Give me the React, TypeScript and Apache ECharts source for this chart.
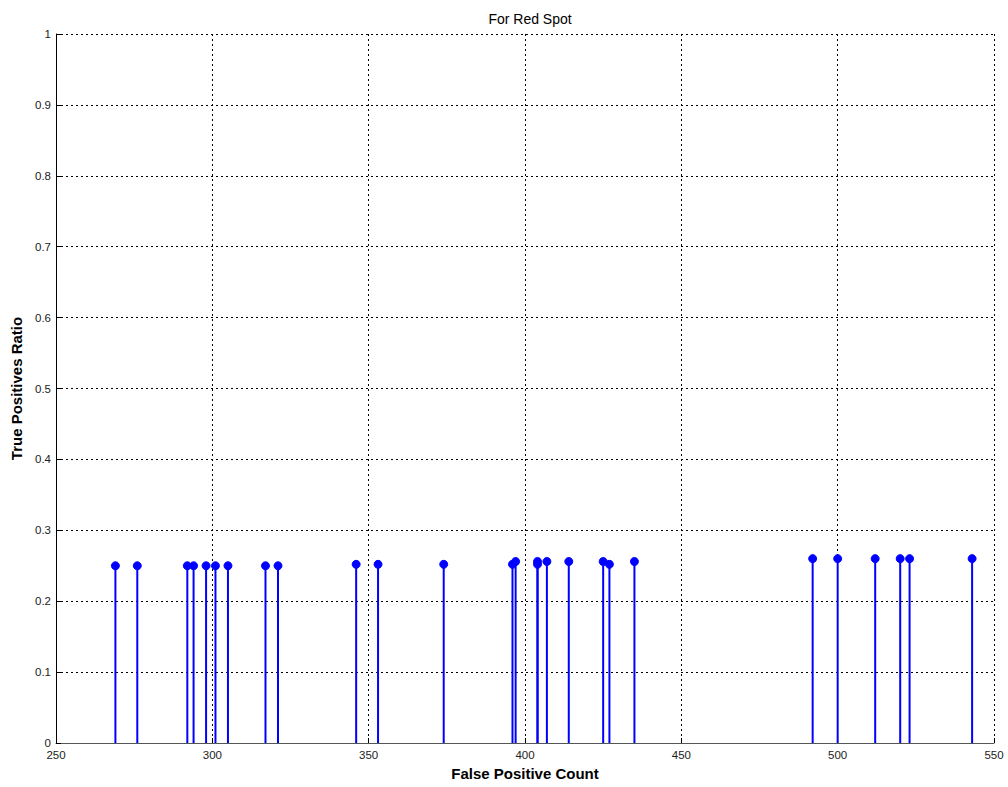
import React, { useEffect, useRef } from "react";
import * as echarts from "echarts";

const titleText = "For Red Spot";
const xName = "False Positive Count";
const yName = "True Positives Ratio";
const falsePositiveCounts = [269, 276, 292, 294, 298, 301, 305, 317, 321, 346, 353, 374, 396, 397, 404, 404, 407, 414, 425, 427, 435, 492, 500, 512, 520, 523, 543];
const truePositiveRatios = [0.25, 0.25, 0.25, 0.25, 0.25, 0.25, 0.25, 0.25, 0.25, 0.252, 0.252, 0.252, 0.252, 0.256, 0.252, 0.256, 0.256, 0.256, 0.256, 0.252, 0.256, 0.26, 0.26, 0.26, 0.26, 0.26, 0.26];

export default function App() {
  const ref = useRef<HTMLDivElement>(null);
  useEffect(() => {
    document.body.style.margin = "0";
    const chart = echarts.init(ref.current!, null, { renderer: "svg" });
    const data = falsePositiveCounts.map((x, i) => [x, truePositiveRatios[i]]);
    chart.setOption({
      animation: false,
      backgroundColor: "#ffffff",
      title: {
        text: titleText,
        left: 525,
        top: 7,
        textAlign: "center",
        textStyle: { fontFamily: "Arial, Liberation Sans", fontSize: 14, fontWeight: "normal", color: "#000" },
      },
      grid: { left: 56, top: 34, right: 14, bottom: 44, containLabel: false, outerBoundsMode: "none" },
      xAxis: {
        type: "value",
        min: 250,
        max: 550,
        interval: 50,
        name: xName,
        nameLocation: "middle",
        nameGap: 23,
        nameTextStyle: { fontFamily: "Arial, Liberation Sans", fontSize: 15, fontWeight: "bold", color: "#000" },
        axisLine: { onZero: false, lineStyle: { color: "#555", width: 1 } },
        axisTick: { inside: true, length: 5, lineStyle: { color: "#000" } },
        axisLabel: { fontFamily: "Arial, Liberation Sans", fontSize: 11.5, lineHeight: 11, color: "#222", margin: 6 },
        splitLine: { show: true, lineStyle: { color: "#000", type: [2, 3], width: 1 } },
      },
      yAxis: {
        type: "value",
        min: 0,
        max: 1,
        interval: 0.1,
        name: yName,
        nameLocation: "middle",
        nameGap: 32,
        nameTextStyle: { fontFamily: "Arial, Liberation Sans", fontSize: 15, fontWeight: "bold", color: "#000" },
        axisLine: { show: true, lineStyle: { color: "#000", width: 1 } },
        axisTick: { inside: true, length: 5, lineStyle: { color: "#000" } },
        axisLabel: {
          fontFamily: "Arial, Liberation Sans",
          fontSize: 11.5,
          lineHeight: 10,
          color: "#222",
          margin: 5,
          formatter: (v: number) => String(Math.round(v * 10) / 10),
        },
        splitLine: { show: true, lineStyle: { color: "#000", type: [2, 3], width: 1 } },
      },
      series: [
        {
          type: "custom",
          data,
          clip: false,
          renderItem: (params: any, api: any) => {
            const top = api.coord([api.value(0), api.value(1)]);
            const base = api.coord([api.value(0), 0]);
            return {
              type: "group",
              children: [
                {
                  type: "line",
                  shape: { x1: base[0], y1: base[1], x2: top[0], y2: top[1] },
                  style: { stroke: "#0000ff", lineWidth: 2 },
                },
                {
                  type: "circle",
                  shape: { cx: top[0], cy: top[1], r: 4 },
                  style: { fill: "#0000ff", stroke: "#0000ff", lineWidth: 1 },
                },
              ],
            };
          },
        },
      ],
    });
    return () => chart.dispose();
  }, []);
  return <div ref={ref} style={{ width: 1008, height: 787 }} />;
}
